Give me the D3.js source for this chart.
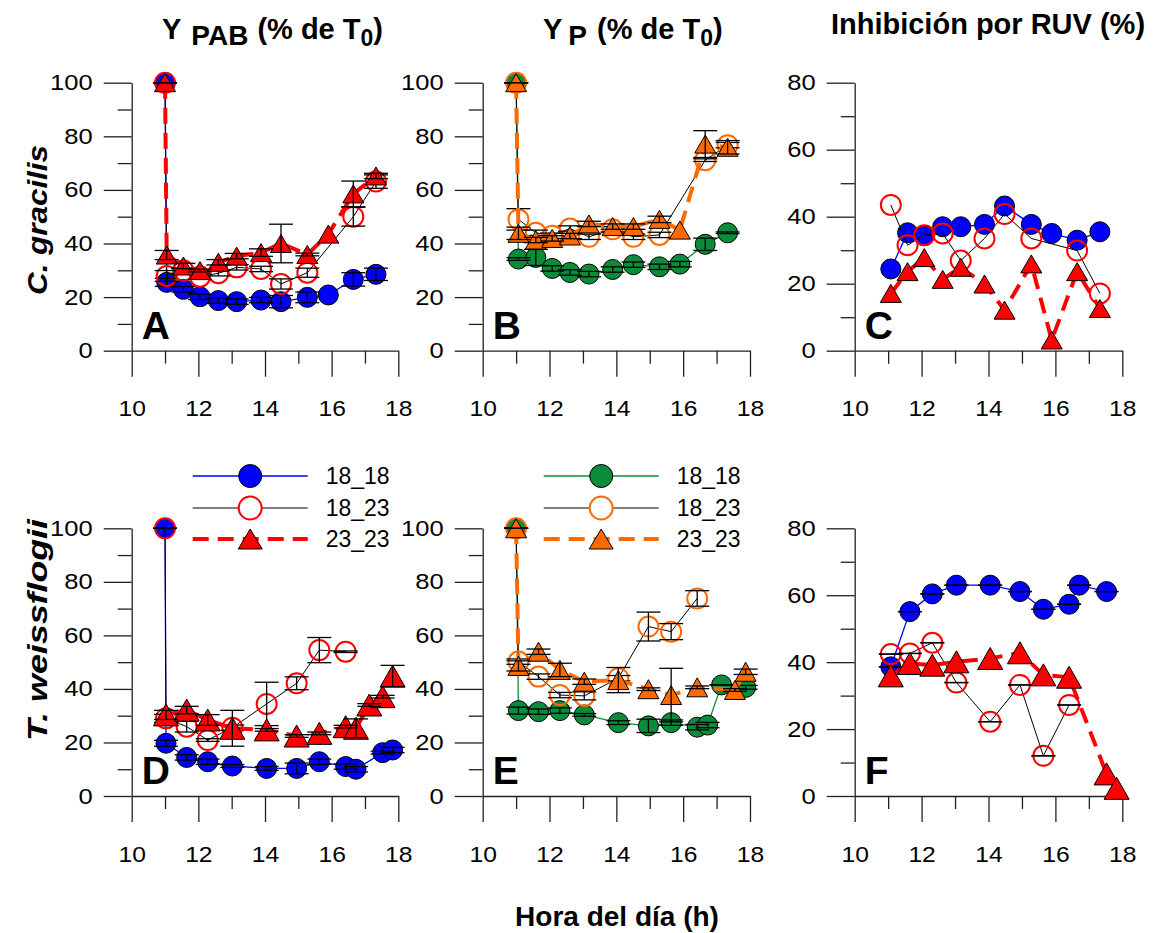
<!DOCTYPE html>
<html><head><meta charset="utf-8">
<script src="https://cdn.jsdelivr.net/npm/d3@7"></script>
<style>
body{margin:0;background:#fff;}
svg{font-family:"Liberation Sans",Arial,sans-serif;}
</style></head>
<body><svg id="c" width="1157" height="933"></svg>
<script>
// ---------- DATA ----------
const xTicks = [10, 12, 14, 16, 18];
const yTicks100 = [0, 20, 40, 60, 80, 100];
const yTicks80 = [0, 20, 40, 60, 80];
const seriesNames = ["18_18", "18_23", "23_23"];

// Panel A : Y PAB, C. gracilis
const hA = [11.0, 11.05, 11.55, 12.05, 12.6, 13.15, 13.88, 14.48, 15.27, 15.9, 16.65, 17.33];
const A_18_18 = [100, 25.5, 22.9, 20.1, 18.7, 18.3, 18.9, 18.3, 19.9, 20.8, 26.6, 28.5];
const A_18_18_e = [0, 1.5, 1, 1, 1, 1, 1, 2.3, 2, null, 2.5, 2.3];
const A_18_23 = [100, 27.9, 29.9, 27.6, 28.9, 31.1, 30.5, 24.9, 29.1, null, 50.0, 63.1];
const A_18_23_e = [0, 2, 1, 1, 1, 1, 1, 1.9, 1.7, null, 3.5, 2.5];
const A_23_23 = [100, 35.7, 31.6, 29.9, 33.0, 35.3, 36.6, 40.0, 35.9, 43.5, 58.5, 65.2];
const A_23_23_e = [0, 1.7, 1, 0.5, 1, 1, 1.4, 7.2, 0.5, null, 4.8, 1];

// Panel B : Y P, C. gracilis
const hB = [11.0, 11.07, 11.59, 12.08, 12.61, 13.18, 13.89, 14.51, 15.29, 15.9, 16.66, 17.33];
const B_18_18 = [100, 34.2, 34.8, 30.7, 29.2, 28.6, 30.3, 32.1, 31.3, 32.3, 39.7, 44.0];
const B_18_18_e = [0, 0.5, 3, 1, 1, 1, 1, 1, 1, 1, 2.3, 0.3];
const B_18_23 = [100, 49.0, 44.0, 42.9, 45.6, 42.5, 45.3, 42.5, 43.2, null, 71.1, 76.7];
const B_18_23_e = [0, 4, 1, 1, 1, 1, 1, 1, 1, null, 0.5, 1];
const B_23_23 = [100, 43.8, 41.3, 41.9, 42.8, 47.3, 46.3, 46.3, 49.0, 45.0, 77.1, 75.9];
const B_23_23_e = [0, 2.3, 1, 1, 1, 1, 1, 1, 1.2, null, 5, 2.5];

// Panel C : Inhibición, C. gracilis
const hC = [11.08, 11.58, 12.08, 12.63, 13.17, 13.88, 14.48, 15.28, 15.89, 16.65, 17.33];
const C_18_18 = [24.4, 35.2, 34.3, 37.0, 37.0, 37.7, 43.2, 37.7, 35.0, 33.0, 35.5];
const C_18_23 = [43.5, 31.5, 34.5, 35.0, 26.9, 33.5, 40.8, 33.5, null, 29.9, 17.1];
const C_23_23 = [17.1, 23.6, 27.8, 21.3, 24.9, 19.9, 12.1, 25.9, 3.2, 23.6, 12.6];

// Panel D : Y PAB, T. weissflogii
const hD = [11.0, 11.03, 11.65, 12.28, 13.02, 14.05, 14.95, 15.63, 16.42, 16.73, 17.13, 17.53, 17.83];
const D_18_18 = [100, 19.7, 14.4, 12.8, 11.2, 10.3, 10.3, 12.8, 11.0, 10.0, null, 16.2, 17.2];
const D_18_18_e = [0, 1.1, 1, 1, 0.5, 0.7, 2, 1, 1, 1, null, 0.5, 1];
const D_18_23 = [100, 29.0, 25.9, 20.9, 25.5, 34.4, 42.1, 54.5, 53.9, null, null, null, null];
const D_18_23_e = [0, 1.5, 2, 0.5, 1, 8.1, 2.4, 4.7, 0.3, null, null, null, null];
const D_23_23 = [null, 30.3, 32.1, 28.4, 25.3, 24.7, 22.4, 23.4, 25.9, 25.3, 34.0, 37.1, 44.8];
const D_23_23_e = [null, 1.7, 1.4, 2, 6.7, 0.5, 0.5, 0.5, 0.5, 3.5, 0.5, 0.5, 4];

// Panel E : Y P, T. weissflogii
const hE = [11.0, 11.07, 11.67, 12.31, 13.04, 14.06, 14.96, 15.64, 16.42, 16.73, 17.15, 17.55, 17.87];
const E_18_18 = [100, 31.9, 31.5, 31.9, 30.3, 27.4, 26.2, 27.4, 25.7, 26.5, 41.5, null, 40.6];
const E_18_18_e = [0, 1.3, 1, 1, 0.5, 0.7, 2.5, 1, 1, 1, 0, null, 0.7];
const E_18_23 = [100, 50.2, 44.6, 37.7, 37.4, 44.0, 63.3, 61.4, 73.8, null, null, null, null];
const E_18_23_e = [0, 1, 1, 1, 1.5, 1, 5.4, 3, 2.9, null, null, null, null];
const E_23_23 = [100, 48.6, 53.9, 47.1, 42.7, 43.3, 39.9, 37.7, 40.6, null, null, 39.6, 46.4];
const E_23_23_e = [0, 1.9, 1, 2.5, 1, 4.7, 0.5, 10, 0.5, null, null, 0.5, 1];

// Panel F : Inhibición, T. weissflogii
const hF = [11.08, 11.65, 12.32, 13.04, 14.05, 14.94, 15.64, 16.41, 16.71, 17.53, 17.83];
const F_18_18 = [38.6, 55.1, 60.4, 63.0, 63.0, 61.1, 55.8, 57.3, 63.0, 61.1, null];
const F_18_18_e = [0, 0, 0, 0, 0, 0, 0, 0, 0, 0, null];
const F_18_23 = [42.4, 42.6, 45.8, 33.9, 22.2, 33.2, 12.0, 27.2, null, null, null];
const F_18_23_e = [0, 0, 0, 0, 0, 0, 0, 0, null, null, null];
const F_23_23 = [35.9, 39.6, 39.1, 40.1, 41.1, 42.8, 36.2, 35.5, null, 6.6, 2.3];

// ---------- STYLES ----------
const BLUE = "#0000ff", RED = "#ff0000", GREEN = "#0a8c3a", ORANGE = "#ff6a00";
const styleRed = {
  s1: {line: BLUE, lw: 1.3, marker: "circle", fill: BLUE, stroke: "#000", sw: 1},
  s2: {line: "#000", lw: 1, marker: "circle", fill: "none", stroke: RED, sw: 2},
  s3: {line: RED, lw: 4, dash: "16,9", marker: "tri", fill: RED, stroke: "#000", sw: 1}
};
const styleOrange = {
  s1: {line: GREEN, lw: 1.3, marker: "circle", fill: GREEN, stroke: "#000", sw: 1},
  s2: {line: "#000", lw: 1, marker: "circle", fill: "none", stroke: ORANGE, sw: 2},
  s3: {line: ORANGE, lw: 4, dash: "16,9", marker: "tri", fill: ORANGE, stroke: "#000", sw: 1}
};

const svg = d3.select("#c");
const FONT = '"Liberation Sans",Arial,sans-serif';

const colX = [[131.7, 398.3], [482.7, 750], [854.7, 1122.3]];
const rowY = [[350.7, 82.7], [796, 528.3]];

const panels = [
  {letter: "A", c: 0, r: 0, ymax: 100, h: hA, st: styleRed, tri: [21, 18],
   s: [[A_18_18, A_18_18_e], [A_18_23, A_18_23_e], [A_23_23, A_23_23_e]]},
  {letter: "B", c: 1, r: 0, ymax: 100, h: hB, st: styleOrange, tri: [21, 18],
   s: [[B_18_18, B_18_18_e], [B_18_23, B_18_23_e], [B_23_23, B_23_23_e]]},
  {letter: "C", c: 2, r: 0, ymax: 80, h: hC, st: styleRed, tri: [21, 18],
   s: [[C_18_18, null], [C_18_23, null], [C_23_23, null]]},
  {letter: "D", c: 0, r: 1, ymax: 100, h: hD, st: styleRed, tri: [25, 22], legend: true,
   s: [[D_18_18, D_18_18_e], [D_18_23, D_18_23_e], [D_23_23, D_23_23_e]]},
  {letter: "E", c: 1, r: 1, ymax: 100, h: hE, st: styleOrange, tri: [21, 19], legend: true,
   s: [[E_18_18, E_18_18_e], [E_18_23, E_18_23_e], [E_23_23, E_23_23_e]]},
  {letter: "F", c: 2, r: 1, ymax: 80, h: hF, st: styleRed, tri: [25, 22],
   s: [[F_18_18, F_18_18_e], [F_18_23, F_18_23_e], [F_23_23, null]]}
];

function triPath(w, h) {
  return `M${-w/2},${h/2}L${w/2},${h/2}L0,${-h/2}Z`;
}
function stretch(sel, k) {
  sel.each(function() {
    const L = this.getComputedTextLength();
    if (L > 0) d3.select(this).attr("textLength", L * k).attr("lengthAdjust", "spacingAndGlyphs");
  });
}

panels.forEach(p => {
  const x = d3.scaleLinear().domain([10, 18]).range(colX[p.c]);
  const y = d3.scaleLinear().domain([0, p.ymax]).range(rowY[p.r]);
  const g = svg.append("g");
  const yt = p.ymax === 100 ? yTicks100 : yTicks80;

  // axes
  const yAx = d3.axisLeft(y).tickValues(yt).tickSize(28).tickPadding(11).tickSizeOuter(0);
  const gy = g.append("g").attr("transform", `translate(${x(10)},0)`).call(yAx);
  const yMinor = d3.axisLeft(y).tickValues(yt.slice(0, -1).map(v => v + 10)).tickSize(14).tickFormat("").tickSizeOuter(0);
  const gym = g.append("g").attr("transform", `translate(${x(10)},0)`).call(yMinor);
  gym.select(".domain").remove();

  const xAx = d3.axisBottom(x).tickValues(xTicks).tickSize(26).tickPadding(24).tickSizeOuter(0);
  const gx = g.append("g").attr("transform", `translate(0,${y(0)})`).call(xAx);
  const xMinor = d3.axisBottom(x).tickValues([11, 13, 15, 17]).tickSize(13).tickFormat("").tickSizeOuter(0);
  const gxm = g.append("g").attr("transform", `translate(0,${y(0)})`).call(xMinor);
  gxm.select(".domain").remove();

  [gy, gym, gx, gxm].forEach(a => {
    a.selectAll("path,line").attr("stroke", "#222").attr("stroke-width", 1.3);
    a.selectAll("text").attr("font-size", 22).attr("font-family", FONT).attr("fill", "#000");
  });
  stretch(gy.selectAll("text"), 1.16);
  stretch(gx.selectAll("text"), 1.12);

  // series
  const keys = ["s1", "s2", "s3"];
  p.s.forEach((ser, i) => {
    const st = p.st[keys[i]];
    const vals = ser[0], errs = ser[1];
    const pts = p.h.map((t, j) => ({t, v: vals[j], e: errs ? errs[j] : null})).filter(d => d.v != null);
    const line = d3.line().x(d => x(d.t)).y(d => y(d.v));
    g.append("path").datum(pts).attr("d", line).attr("fill", "none")
      .attr("stroke", st.line).attr("stroke-width", st.lw)
      .attr("stroke-dasharray", st.dash || null);
    const mk = g.append("g");
    if (st.marker === "circle") {
      mk.selectAll("circle").data(pts).join("circle")
        .attr("cx", d => x(d.t)).attr("cy", d => y(d.v)).attr("r", 10)
        .attr("fill", st.fill).attr("stroke", st.stroke).attr("stroke-width", st.sw);
    } else {
      mk.selectAll("path").data(pts).join("path")
        .attr("d", triPath(p.tri[0], p.tri[1]))
        .attr("transform", d => `translate(${x(d.t)},${y(d.v)})`)
        .attr("fill", st.fill).attr("stroke", st.stroke).attr("stroke-width", st.sw);
    }
    if (errs) {
      const eb = g.append("g").attr("stroke", "#000").attr("stroke-width", 1.3);
      pts.filter(d => d.e != null).forEach(d => {
        const cx = x(d.t), y1 = y(d.v + d.e), y2 = y(d.v - d.e);
        if (d.e > 0) eb.append("line").attr("x1", cx).attr("x2", cx).attr("y1", y1).attr("y2", y2);
        eb.append("line").attr("x1", cx - 12).attr("x2", cx + 12).attr("y1", y1).attr("y2", y1);
        eb.append("line").attr("x1", cx - 12).attr("x2", cx + 12).attr("y1", y2).attr("y2", y2);
      });
    }
  });

  // panel letter
  g.append("text").attr("x", x(10) + 10).attr("y", y(0) - 12)
    .attr("font-size", 39).attr("font-weight", "bold").attr("font-family", FONT).text(p.letter);

  // legend
  if (p.legend) {
    const lx0 = x(10) + 61, lx1 = lx0 + 115, lm = (lx0 + lx1) / 2;
    const ly = [476, 508, 539];
    keys.forEach((k, i) => {
      const st = p.st[k];
      g.append("line").attr("x1", lx0).attr("x2", lx1).attr("y1", ly[i]).attr("y2", ly[i])
        .attr("stroke", st.line).attr("stroke-width", st.lw).attr("stroke-dasharray", st.dash || null);
      if (st.marker === "circle") {
        g.append("circle").attr("cx", lm).attr("cy", ly[i]).attr("r", 11.5)
          .attr("fill", st.fill === "none" ? "#fff" : st.fill).attr("stroke", st.stroke).attr("stroke-width", st.sw);
      } else {
        g.append("path").attr("d", triPath(24, 20)).attr("transform", `translate(${lm},${ly[i]})`)
          .attr("fill", st.fill).attr("stroke", st.stroke).attr("stroke-width", st.sw);
      }
      g.append("text").attr("x", lx1 + 18).attr("y", ly[i] + 8.3).attr("font-size", 23)
        .attr("font-family", FONT).text(seriesNames[i]);
    });
  }
});

// ---------- TITLES ----------
function subTitle(x0, sub, dxSub, dxPar) {
  const t = svg.append("text").attr("x", x0).attr("y", 39).attr("font-size", 29)
    .attr("font-weight", "bold").attr("font-family", FONT);
  t.append("tspan").text("Y");
  t.append("tspan").attr("dx", dxSub).attr("dy", 6).attr("font-size", 28).text(sub);
  t.append("tspan").attr("dx", dxPar).attr("dy", -6).text("(% de T");
  t.append("tspan").attr("dy", 7).attr("font-size", 23).text("0");
  t.append("tspan").attr("dy", -7).text(")");
}
subTitle(162, "PAB", 10, 9);
subTitle(543, "P", 6, 10);
svg.append("text").attr("x", 988).attr("y", 34).attr("text-anchor", "middle")
  .attr("font-size", 29).attr("font-weight", "bold").attr("font-family", FONT).text("Inhibición por RUV (%)");

svg.append("text").attr("transform", "translate(47,220) rotate(-90)").attr("text-anchor", "middle")
  .attr("font-size", 27).attr("font-weight", "bold").attr("font-style", "italic").attr("font-family", FONT)
  .attr("textLength", 150).attr("lengthAdjust", "spacingAndGlyphs")
  .text("C. gracilis");
svg.append("text").attr("transform", "translate(47,630) rotate(-90)").attr("text-anchor", "middle")
  .attr("font-size", 27).attr("font-weight", "bold").attr("font-style", "italic").attr("font-family", FONT)
  .attr("textLength", 222).attr("lengthAdjust", "spacingAndGlyphs")
  .text("T. weissflogii");
svg.append("text").attr("x", 617).attr("y", 926).attr("text-anchor", "middle")
  .attr("font-size", 28).attr("font-weight", "bold").attr("font-family", FONT).text("Hora del día (h)");
</script></body></html>
